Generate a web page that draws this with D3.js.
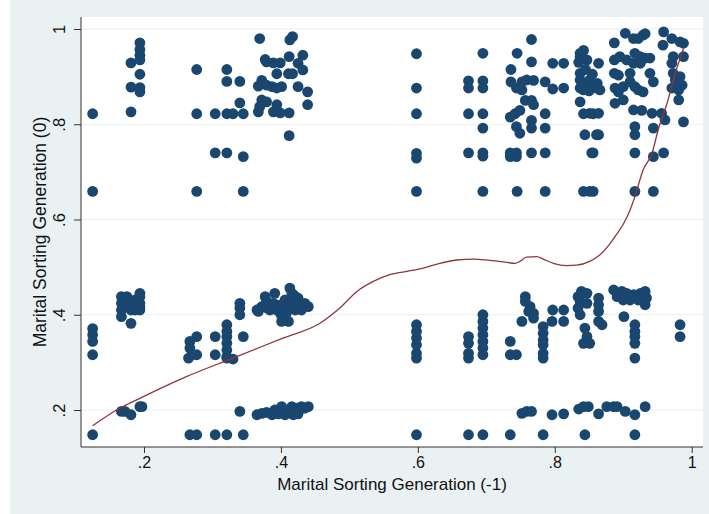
<!DOCTYPE html>
<html>
<head>
<meta charset="utf-8">
<script src="https://cdn.jsdelivr.net/npm/d3@7"></script>
<style>
  body { margin: 0; background: #fff; }
  svg text { font-family: "Liberation Sans", Arial, Helvetica, sans-serif; fill: #111; }
</style>
</head>
<body>
<div id="chart"></div>
<script>
// Data: [generation -1, generation 0]
var upperPoints = [
  [0.125,0.822],[0.125,0.659],
  [0.181,0.826],[0.181,0.878],[0.181,0.929],
  [0.194,0.971],[0.194,0.957],[0.194,0.945],[0.194,0.935],[0.194,0.905],[0.194,0.877],[0.194,0.868],
  [0.277,0.915],[0.277,0.822],[0.277,0.659],
  [0.304,0.822],[0.304,0.740],
  [0.321,0.915],[0.321,0.890],[0.321,0.822],[0.321,0.740],
  [0.330,0.822],
  [0.340,0.890],[0.340,0.845],
  [0.345,0.822],[0.345,0.732],[0.345,0.659],
  [0.369,0.980],[0.413,0.977],[0.417,0.984],
  [0.377,0.936],[0.379,0.931],[0.389,0.929],[0.399,0.929],[0.412,0.942],[0.432,0.945],[0.425,0.928],[0.432,0.914],
  [0.394,0.906],[0.411,0.906],[0.417,0.906],
  [0.372,0.892],[0.367,0.880],[0.379,0.882],[0.387,0.879],[0.394,0.876],[0.401,0.879],[0.425,0.879],[0.439,0.868],
  [0.372,0.851],[0.379,0.847],[0.394,0.841],[0.439,0.841],[0.369,0.837],
  [0.367,0.826],[0.389,0.826],[0.399,0.824],[0.412,0.824],
  [0.412,0.776],
  [0.598,0.948],[0.598,0.876],[0.598,0.822],[0.598,0.739],[0.598,0.729],[0.598,0.659],
  [0.674,0.891],[0.674,0.876],[0.674,0.822],[0.674,0.740],
  [0.695,0.949],[0.695,0.891],[0.695,0.876],[0.695,0.822],[0.695,0.792],[0.695,0.740],[0.695,0.733],[0.695,0.659],
  [0.766,0.978],[0.745,0.949],[0.766,0.931],[0.797,0.928],[0.813,0.928],
  [0.736,0.915],[0.736,0.889],[0.752,0.889],[0.759,0.893],[0.769,0.892],[0.786,0.889],
  [0.744,0.876],[0.752,0.872],[0.797,0.874],[0.813,0.876],
  [0.757,0.850],[0.766,0.850],[0.769,0.841],
  [0.749,0.829],[0.742,0.822],[0.735,0.815],[0.786,0.822],[0.766,0.808],
  [0.744,0.795],[0.749,0.781],[0.766,0.792],[0.786,0.792],
  [0.735,0.740],[0.744,0.740],[0.735,0.732],[0.744,0.732],[0.766,0.740],[0.786,0.740],
  [0.745,0.659],[0.786,0.659],
  [0.837,0.949],[0.837,0.942],[0.847,0.935],[0.842,0.955],[0.835,0.930],[0.845,0.915],[0.855,0.905],
  [0.837,0.907],[0.837,0.893],[0.842,0.882],[0.851,0.889],[0.859,0.879],[0.842,0.872],[0.837,0.876],[0.850,0.870],[0.862,0.886],
  [0.837,0.847],
  [0.842,0.822],[0.856,0.822],
  [0.844,0.778],[0.861,0.778],
  [0.854,0.740],
  [0.842,0.659],[0.851,0.659],
  [0.864,0.928],
  [0.851,0.893],[0.856,0.882],[0.861,0.876],[0.866,0.872],
  [0.851,0.823],[0.864,0.823],
  [0.864,0.778],[0.856,0.740],[0.856,0.659],
  [0.903,0.991],[0.915,0.980],[0.929,0.987],[0.932,0.990],[0.887,0.971],[0.922,0.980],
  [0.959,0.994],[0.971,0.980],[0.983,0.973],[0.988,0.970],[0.958,0.966],
  [0.887,0.935],[0.895,0.942],[0.905,0.935],[0.917,0.949],[0.925,0.942],[0.932,0.939],[0.939,0.939],[0.915,0.928],[0.925,0.928],
  [0.887,0.907],[0.893,0.903],[0.910,0.907],
  [0.939,0.907],[0.944,0.889],
  [0.971,0.928],[0.973,0.942],[0.988,0.942],
  [0.888,0.876],[0.893,0.868],[0.900,0.879],[0.910,0.889],[0.917,0.879],[0.922,0.872],[0.929,0.868],
  [0.973,0.907],[0.983,0.900],[0.976,0.893],[0.986,0.882],[0.971,0.876],[0.981,0.872],
  [0.888,0.844],[0.900,0.851],
  [0.915,0.830],[0.927,0.829],[0.942,0.823],[0.956,0.823],[0.961,0.809],
  [0.981,0.851],[0.988,0.805],
  [0.917,0.795],[0.917,0.778],[0.944,0.792],
  [0.917,0.740],[0.944,0.732],[0.959,0.740],
  [0.917,0.659],[0.944,0.659]
];

var lowerPoints = [
  [0.125,0.371],[0.125,0.358],[0.125,0.344],[0.125,0.316],[0.125,0.148],
  [0.167,0.438],[0.167,0.424],[0.167,0.410],[0.167,0.396],
  [0.175,0.438],[0.175,0.417],
  [0.181,0.424],[0.181,0.410],[0.181,0.382],
  [0.187,0.431],[0.187,0.410],
  [0.194,0.445],[0.194,0.438],[0.194,0.424],[0.194,0.417],[0.194,0.410],
  [0.167,0.197],[0.172,0.197],[0.181,0.190],[0.194,0.207],[0.197,0.207],
  [0.267,0.344],[0.277,0.354],[0.267,0.330],[0.270,0.316],[0.277,0.316],[0.265,0.309],
  [0.267,0.148],[0.277,0.148],
  [0.304,0.354],[0.304,0.316],[0.304,0.148],[0.321,0.148],
  [0.321,0.379],[0.321,0.365],[0.321,0.354],[0.321,0.340],[0.321,0.326],[0.321,0.312],[0.321,0.309],[0.330,0.307],
  [0.340,0.424],[0.340,0.414],[0.340,0.400],[0.345,0.354],
  [0.340,0.197],[0.345,0.148],
  [0.367,0.407],[0.372,0.417],[0.377,0.438],[0.379,0.428],[0.384,0.410],[0.389,0.424],[0.391,0.445],[0.394,0.410],
  [0.399,0.403],[0.401,0.386],[0.406,0.431],[0.408,0.403],[0.411,0.386],[0.413,0.456],[0.416,0.445],[0.418,0.424],
  [0.421,0.410],[0.425,0.435],[0.428,0.424],[0.433,0.417],[0.440,0.417],[0.430,0.410],
  [0.365,0.410],[0.380,0.414],[0.396,0.420],[0.403,0.414],[0.410,0.417],[0.416,0.431],[0.420,0.440],[0.435,0.424],
  [0.365,0.190],[0.372,0.193],[0.379,0.195],[0.387,0.190],[0.391,0.200],[0.396,0.192],[0.401,0.207],[0.406,0.190],
  [0.411,0.200],[0.416,0.207],[0.418,0.190],[0.423,0.204],[0.425,0.192],[0.430,0.207],[0.435,0.204],[0.440,0.207],
  [0.598,0.379],[0.598,0.365],[0.598,0.351],[0.598,0.337],[0.598,0.319],[0.598,0.309],[0.598,0.148],
  [0.674,0.354],[0.674,0.340],[0.674,0.319],[0.674,0.309],[0.674,0.148],
  [0.695,0.400],[0.695,0.386],[0.695,0.372],[0.695,0.358],[0.695,0.344],[0.695,0.330],[0.695,0.316],[0.695,0.148],
  [0.735,0.344],[0.735,0.316],[0.744,0.316],[0.735,0.148],
  [0.752,0.386],
  [0.757,0.438],[0.757,0.428],[0.764,0.417],[0.762,0.407],[0.769,0.403],[0.769,0.393],
  [0.783,0.375],[0.783,0.361],[0.783,0.347],[0.783,0.337],[0.783,0.319],[0.783,0.309],[0.783,0.148],
  [0.796,0.386],[0.797,0.410],[0.813,0.410],[0.813,0.386],
  [0.834,0.438],[0.837,0.428],[0.834,0.414],[0.837,0.400],[0.839,0.449],[0.847,0.445],[0.847,0.424],
  [0.844,0.372],[0.847,0.354],[0.851,0.340],[0.842,0.340],
  [0.864,0.435],[0.864,0.421],[0.864,0.407],[0.864,0.386],[0.869,0.379],
  [0.886,0.452],[0.891,0.438],[0.898,0.449],[0.905,0.445],[0.915,0.442],[0.925,0.445],[0.932,0.449],[0.934,0.435],
  [0.932,0.421],[0.900,0.431],[0.910,0.431],[0.922,0.431],[0.901,0.396],
  [0.917,0.379],[0.917,0.365],[0.917,0.354],[0.917,0.340],[0.917,0.309],[0.917,0.148],
  [0.983,0.379],[0.983,0.354],
  [0.752,0.193],[0.759,0.197],[0.766,0.197],[0.796,0.190],[0.813,0.192],[0.835,0.202],[0.842,0.207],[0.849,0.207],
  [0.864,0.192],[0.876,0.207],[0.886,0.207],[0.891,0.207],[0.903,0.197],[0.917,0.190],[0.932,0.207],
  [0.844,0.148]
];

// lowess smoother
var lowessX = [0.125,0.16,0.199,0.262,0.330,0.403,0.457,0.486,0.511,0.535,0.559,0.584,0.608,0.632,0.657,0.681,
  0.705,0.730,0.742,0.749,0.759,0.774,0.783,0.798,0.817,0.832,0.851,0.866,0.881,0.890,0.900,0.910,0.917,
  0.929,0.942,0.951,0.964,0.976,0.988];
var lowessY = [0.167,0.200,0.228,0.270,0.309,0.351,0.382,0.414,0.449,0.470,0.484,0.491,0.498,0.508,0.515,0.517,
  0.514,0.510,0.508,0.512,0.521,0.522,0.517,0.508,0.503,0.504,0.512,0.526,0.550,0.568,0.590,0.620,0.648,
  0.704,0.739,0.788,0.844,0.907,0.959];

var xTicks = [0.2, 0.4, 0.6, 0.8, 1];
var yTicks = [0.2, 0.4, 0.6, 0.8, 1];

var svgWidth = 709;
var svgHeight = 514;
var plot = { left: 81, right: 703, top: 17, bottom: 447 };

var svg = d3.select("#chart")
  .append("svg")
  .attr("width", svgWidth)
  .attr("height", svgHeight);

// graph region and plot region backgrounds
svg.append("rect")
  .attr("x", 10).attr("y", 0)
  .attr("width", svgWidth - 10).attr("height", svgHeight)
  .attr("fill", "#eaf1f3");

svg.append("rect")
  .attr("x", plot.left).attr("y", plot.top)
  .attr("width", plot.right - plot.left).attr("height", plot.bottom - plot.top)
  .attr("fill", "#ffffff");

var xScale = d3.scaleLinear().domain([0.2, 1]).range([144, 691.7]);
var yScale = d3.scaleLinear().domain([0.2, 1]).range([410, 29]);

var fmt = function(d) { return d === 1 ? "1" : d3.format(".1f")(d).replace(/^0/, ""); };

// gridlines
svg.append("g")
  .selectAll("line")
  .data(yTicks)
  .enter()
  .append("line")
  .attr("x1", plot.left).attr("x2", plot.right)
  .attr("y1", d => yScale(d)).attr("y2", d => yScale(d))
  .attr("stroke", "#e8eff1")
  .attr("stroke-width", 1.2);

// axes
var leftAxis = d3.axisLeft(yScale).tickValues(yTicks).tickFormat(fmt).tickSize(7).tickSizeOuter(0);
var bottomAxis = d3.axisBottom(xScale).tickValues(xTicks).tickFormat(fmt).tickSize(6).tickSizeOuter(0);

var yAxisG = svg.append("g")
  .attr("transform", `translate(${plot.left},0)`)
  .call(leftAxis);
yAxisG.select(".domain").remove();
yAxisG.selectAll(".tick line").attr("stroke", "#333");
yAxisG.selectAll(".tick text")
  .attr("x", 0).attr("y", 0).attr("dy", "0.35em")
  .attr("text-anchor", "middle")
  .attr("transform", "translate(-22,0) rotate(-90)")
  .attr("font-size", 16.5)
  .attr("fill", "#111");

var xAxisG = svg.append("g")
  .attr("transform", `translate(0,${plot.bottom})`)
  .call(bottomAxis);
xAxisG.select(".domain").remove();
xAxisG.selectAll(".tick line").attr("stroke", "#333");
xAxisG.selectAll(".tick text")
  .attr("y", 10)
  .attr("font-size", 16)
  .attr("fill", "#111");

svg.append("line")
  .attr("x1", plot.left).attr("x2", plot.left)
  .attr("y1", plot.top).attr("y2", plot.bottom)
  .attr("stroke", "#333").attr("stroke-width", 1);
svg.append("line")
  .attr("x1", plot.left).attr("x2", plot.right)
  .attr("y1", plot.bottom).attr("y2", plot.bottom)
  .attr("stroke", "#333").attr("stroke-width", 1);

// points
var allPoints = upperPoints.concat(lowerPoints);
svg.append("g")
  .selectAll("circle")
  .data(allPoints)
  .enter()
  .append("circle")
  .attr("cx", d => xScale(d[0]))
  .attr("cy", d => yScale(d[1]))
  .attr("r", 5.4)
  .attr("fill", "#1a476f");

// lowess line
var line = d3.line()
  .x(d => xScale(d[0]))
  .y(d => yScale(d[1]))
  .curve(d3.curveMonotoneX);

svg.append("path")
  .datum(d3.zip(lowessX, lowessY))
  .attr("d", line)
  .attr("fill", "none")
  .attr("stroke", "#90353b")
  .attr("stroke-width", 1.3);

// axis titles
svg.append("text")
  .attr("transform", `translate(40, ${(plot.top + plot.bottom) / 2}) rotate(-90)`)
  .attr("text-anchor", "middle")
  .attr("dy", "0.35em")
  .attr("font-size", 17.5)
  .text("Marital Sorting Generation (0)");

svg.append("text")
  .attr("x", (plot.left + plot.right) / 2)
  .attr("y", 490)
  .attr("text-anchor", "middle")
  .attr("font-size", 17)
  .text("Marital Sorting Generation (-1)");
</script>
</body>
</html>
